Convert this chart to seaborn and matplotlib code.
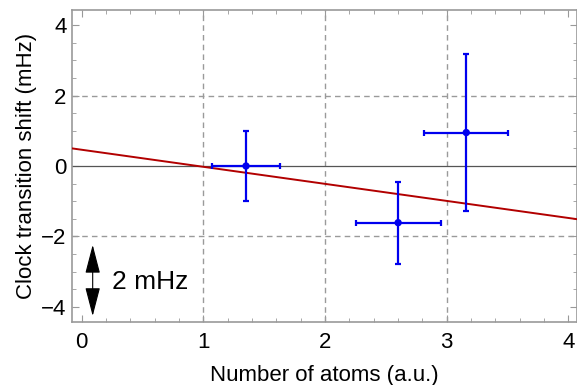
import matplotlib
matplotlib.use("Agg")
import matplotlib.pyplot as plt
from matplotlib.ticker import MultipleLocator
import seaborn as sns
import pandas as pd

# Data
atoms = [1.35, 2.60, 3.16]
shift = [0.00, -1.61, 0.95]
atoms_err = [0.28, 0.35, 0.345]
shift_err = [1.00, 1.16, 2.24]

fit_x = [-0.08, 4.07]
fit_y = [0.50, -1.51]

x_ticks = [0, 1, 2, 3, 4]
y_ticks = [-4, -2, 0, 2, 4]
y_tick_labels = ["\u22124", "\u22122", "0", "2", "4"]

sns.set_style("white")
plt.rcParams['font.family'] = ['Liberation Sans', 'DejaVu Sans']
plt.rcParams['text.color'] = 'black'
plt.rcParams['axes.labelcolor'] = 'black'
plt.rcParams['xtick.labelcolor'] = 'black'
plt.rcParams['ytick.labelcolor'] = 'black'

fig = plt.figure(figsize=(5.77, 3.85), dpi=100)
ax = fig.add_axes([72/577, 1 - 322/385, (577 - 72)/577, (322 - 10)/385])

ax.set_xlim(-0.08, 4.07)
ax.set_ylim(-4.43, 4.43)

# grid
for gx in [1, 2, 3]:
    ax.axvline(gx, color="#9a9a9a", lw=1.0, ls=(0, (4, 3)), zorder=1)
for gy in [-2, 2]:
    ax.axhline(gy, color="#9a9a9a", lw=1.0, ls=(0, (4, 3)), zorder=1)
ax.axhline(0, color="#555555", lw=0.9, zorder=2)

fit_df = pd.DataFrame({"x": fit_x, "y": fit_y})
sns.lineplot(data=fit_df, x="x", y="y", color="#b20000", lw=1.4, ax=ax, zorder=3)

ax.errorbar(atoms, shift, xerr=atoms_err, yerr=shift_err, fmt="none",
            ecolor="#0000ee", elinewidth=1.6, capsize=2.5, capthick=1.6, zorder=4)
pts = pd.DataFrame({"x": atoms, "y": shift})
sns.scatterplot(data=pts, x="x", y="y", color="#0000ee", s=28, edgecolor="none",
                ax=ax, zorder=5)

# scale arrow
ax.annotate("", xy=(0.09, -2.24), xytext=(0.09, -4.26),
            arrowprops=dict(arrowstyle="<|-|>,head_length=1.0,head_width=0.26",
                            color="black", lw=0.8,
                            mutation_scale=18, shrinkA=0, shrinkB=0))
ax.text(0.245, -3.3, "2 mHz", fontsize=19, va="center", ha="left")

ax.set_xticks(x_ticks)
ax.set_yticks(y_ticks)
ax.set_yticklabels(y_tick_labels)
ax.xaxis.set_minor_locator(MultipleLocator(0.2))
ax.yaxis.set_minor_locator(MultipleLocator(0.5))
ax.tick_params(which="both", direction="in", top=True, right=True, bottom=True, left=True,
               color="#999999", labelsize=16, labelcolor="black")
ax.tick_params(axis="x", pad=7)
ax.tick_params(axis="y", pad=4)
ax.tick_params(which="major", length=5, width=0.8)
ax.tick_params(which="minor", length=3, width=0.6)
ax.tick_params(axis="x", labeltop=False)
ax.tick_params(axis="y", labelright=False)
for s in ax.spines.values():
    s.set_color("#999999")
    s.set_linewidth(1.2)

ax.set_xlabel("Number of atoms (a.u.)", fontsize=16, labelpad=9, color="black")
ax.set_ylabel("Clock transition shift (mHz)", fontsize=16, labelpad=3, color="black")

fig.savefig("out.png", dpi=100)
